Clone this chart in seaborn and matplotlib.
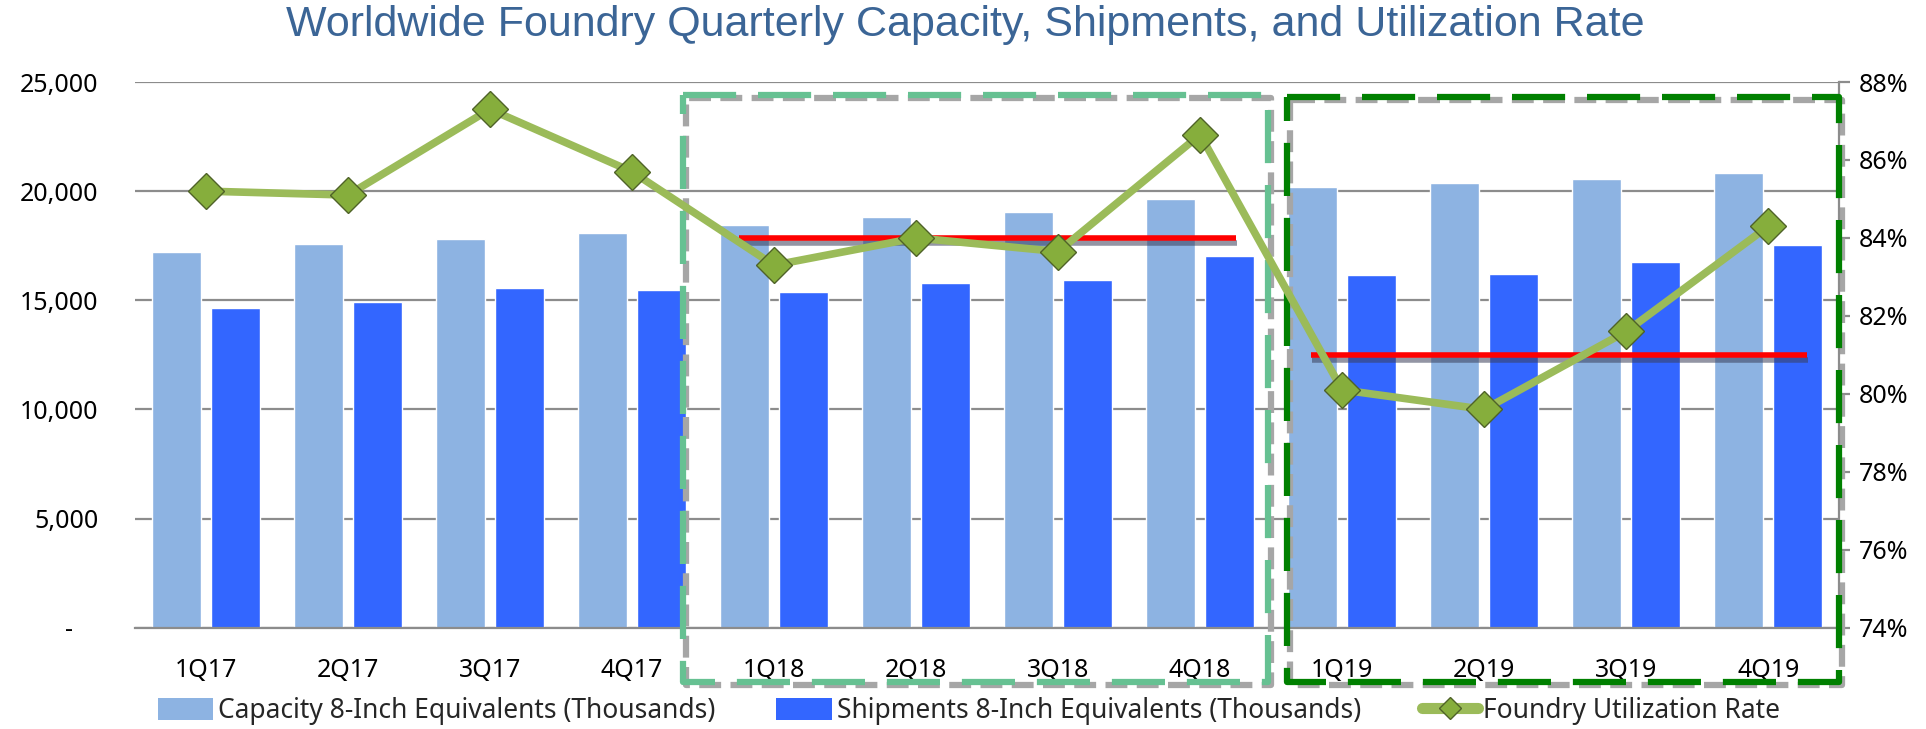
import numpy as np
import pandas as pd
import seaborn as sns
import matplotlib.pyplot as plt
import matplotlib.transforms as mtransforms
from matplotlib.lines import Line2D
from matplotlib.patches import Patch

# data
quarters = ['1Q17', '2Q17', '3Q17', '4Q17', '1Q18', '2Q18', '3Q18', '4Q18',
            '1Q19', '2Q19', '3Q19', '4Q19']
capacity = [17220, 17580, 17810, 18080, 18460, 18810, 19050, 19640,
            20190, 20370, 20560, 20830]
shipments = [14640, 14930, 15560, 15470, 15390, 15800, 15930, 17030,
             16150, 16200, 16760, 17540]
utilization = [85.2, 85.1, 87.3, 85.7, 83.3, 84.0, 83.65, 86.65,
               80.1, 79.6, 81.6, 84.3]

# yearly reference level (red lines) and their span in category units
year_level = [84.0, 81.0]
year_span = [(3.75, 7.25), (7.78, 11.27)]

# highlight boxes (x in category units, y in utilization units)
box_2018 = (3.36, 7.48, 72.6, 87.66)
box_2019 = (7.61, 11.5, 72.6, 87.62)

cap_label = 'Capacity 8-Inch Equivalents (Thousands)'
ship_label = 'Shipments 8-Inch Equivalents (Thousands)'
util_label = 'Foundry Utilization Rate'

cap_color = '#8DB3E2'
ship_color = '#3366FF'
line_color = '#9BBB59'
grid_color = '#8C8C8C'

sns.set_theme(style='white')
plt.rcParams['font.family'] = ['Noto Sans', 'DejaVu Sans']

fig, ax = plt.subplots(figsize=(19.26, 7.29), dpi=100)
fig.subplots_adjust(left=0.070, right=0.955, bottom=0.139, top=0.8875)

df = pd.DataFrame({
    'quarter': quarters * 2,
    'value': capacity + shipments,
    'series': [cap_label] * len(quarters) + [ship_label] * len(quarters),
})
sns.barplot(data=df, x='quarter', y='value', hue='series',
            palette=[cap_color, ship_color], saturation=1,
            width=0.83, gap=0.17, errorbar=None, legend=False, ax=ax)

ax.set_xlim(-0.5, 11.5)
ax.set_ylim(0, 25000)
ax.set_yticks(range(0, 25001, 5000))
ax.set_yticklabels(['-    '] + [f'{v:,}' for v in range(5000, 25001, 5000)])
ax.set_xlabel('')
ax.set_ylabel('')
ax.grid(axis='y', color=grid_color, lw=1.6)
ax.grid(axis='x', visible=False)
ax.set_axisbelow(True)
for s in ['left', 'top', 'right']:
    ax.spines[s].set_visible(False)
ax.spines['bottom'].set_color(grid_color)
ax.spines['bottom'].set_linewidth(1.6)
ax.tick_params(axis='y', length=0, pad=26, labelsize=18, labelcolor='black')
ax.tick_params(axis='x', length=0, pad=22, labelsize=18, labelcolor='black')

ax2 = ax.twinx()
x_pos = np.arange(len(quarters))

# highlight boxes: grey dashed shadow then coloured dashes
shadow = mtransforms.offset_copy(ax2.transData, fig=fig, x=3, y=-3, units='dots')
for (x0, x1, y0, y1), col in [(box_2018, '#66C192'), (box_2019, '#008000')]:
    xs = [x0, x1, x1, x0, x0]
    ys = [y1, y1, y0, y0, y1]
    ax2.plot(xs, ys, color='#A6A6A6', lw=4.5, ls=(4.5, (3.5, 1.5)),
             transform=shadow, clip_on=False, zorder=2, solid_joinstyle='round')
    ax2.plot(xs, ys, color=col, lw=4.5, ls=(0, (8.5, 3.5)),
             clip_on=False, zorder=3, dash_joinstyle='round')

# red yearly lines with a soft shadow
shadow2 = mtransforms.offset_copy(ax2.transData, fig=fig, x=1, y=-5, units='dots')
for lvl, (a, b) in zip(year_level, year_span):
    ax2.plot([a, b], [lvl, lvl], color='#3a3f5a', alpha=0.55, lw=4,
             transform=shadow2, solid_capstyle='butt', zorder=4)
    ax2.plot([a, b], [lvl, lvl], color='#FF0000', lw=4,
             solid_capstyle='butt', zorder=5)

sns.lineplot(x=x_pos, y=utilization, ax=ax2, color=line_color, lw=5.5,
             marker='D', markersize=18, markerfacecolor='#86AE3C',
             markeredgecolor='#4F6228', markeredgewidth=1, sort=False,
             zorder=6, legend=False)

ax2.set_ylim(74, 88)
ax2.set_yticks(range(74, 89, 2))
ax2.set_yticklabels([f'{v}%' for v in range(74, 89, 2)])
ax2.set_xlim(-0.5, 11.5)
ax2.set_ylabel('')
for s in ['left', 'top', 'bottom']:
    ax2.spines[s].set_visible(False)
ax2.spines['right'].set_color(grid_color)
ax2.spines['right'].set_linewidth(1.6)
ax2.tick_params(axis='y', length=8, width=1.6, color=grid_color, pad=6,
                labelsize=18, labelcolor='black')
ax2.grid(False)

fig.text(0.501, 0.966, 'Worldwide Foundry Quarterly Capacity, Shipments, and Utilization Rate',
         ha='center', va='center', fontsize=31, color='#3B6596',
         family=['Liberation Sans', 'DejaVu Sans'])

handles = [
    Patch(facecolor=cap_color, edgecolor='none'),
    Patch(facecolor=ship_color, edgecolor='none'),
    Line2D([0], [0], color=line_color, lw=8, marker='D', markersize=11,
           markerfacecolor='#86AE3C', markeredgecolor='#4F6228'),
]
fig.legend(handles, [cap_label, ship_label, util_label], loc='center',
           bbox_to_anchor=(0.503, 0.025), ncol=3, frameon=False, fontsize=19,
           handlelength=2.1, handleheight=0.9, handletextpad=0.2,
           columnspacing=2.3, borderaxespad=0)

plt.savefig('out.png', dpi=100)
